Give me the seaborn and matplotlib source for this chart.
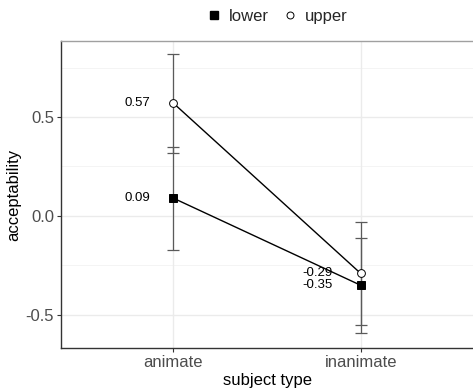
import matplotlib
matplotlib.use('Agg')
import matplotlib.pyplot as plt
from matplotlib.lines import Line2D
import seaborn as sns
import pandas as pd

# data
subjects = ['animate', 'inanimate', 'animate', 'inanimate']
positions = ['lower', 'lower', 'upper', 'upper']
means = [0.09, -0.35, 0.57, -0.29]
ci_low = [-0.17, -0.59, 0.32, -0.55]
ci_high = [0.35, -0.11, 0.82, -0.03]

df = pd.DataFrame({'subject': subjects, 'position': positions,
                   'acceptability': means, 'lo': ci_low, 'hi': ci_high})

sns.set_theme(style='white')
plt.rcParams['font.family'] = ['Liberation Sans', 'DejaVu Sans']

fig = plt.figure(figsize=(4.73, 3.89), dpi=100)
ax = fig.add_axes([0.129, 0.1054, 0.871, 0.7892])

# grid
for v in [-0.75, -0.25, 0.25, 0.75]:
    ax.axhline(v, color='#f2f2f2', lw=0.6, zorder=0)
for v in [-0.5, 0.0, 0.5]:
    ax.axhline(v, color='#ebebeb', lw=1.0, zorder=0)

# error bars
ax.errorbar(df['subject'], df['acceptability'],
            yerr=[df['acceptability'] - df['lo'], df['hi'] - df['acceptability']],
            fmt='none', ecolor='#5a5a5a', elinewidth=0.9, capsize=4,
            capthick=0.9, zorder=2)

styles = {'lower': dict(marker='s', markerfacecolor='black'),
          'upper': dict(marker='o', markerfacecolor='white')}
for pos in ['lower', 'upper']:
    sub = df[df['position'] == pos]
    sns.lineplot(data=sub, x='subject', y='acceptability', ax=ax,
                 color='black', lw=1.0, markersize=5.6,
                 markeredgecolor='black', markeredgewidth=0.7,
                 zorder=3, **styles[pos])

# value labels
nudge = {'animate': -0.19, 'inanimate': -0.23}
xidx = {'animate': 0, 'inanimate': 1}
for _, r in df.iterrows():
    ax.text(xidx[r['subject']] + nudge[r['subject']], r['acceptability'],
            '{:.2f}'.format(r['acceptability']), ha='center', va='center',
            fontsize=9.5, color='black')

for v in [0, 1]:
    ax.axvline(v, color='#ebebeb', lw=1.0, zorder=0)

ax.set_xlim(-0.6, 1.6)
ax.set_ylim(-0.667, 0.884)
ax.set_yticks([-0.5, 0.0, 0.5])
ax.set_yticklabels(['-0.5', '0.0', '0.5'])
ax.set_xlabel('subject type', fontsize=12, color='black', labelpad=2)
ax.set_ylabel('acceptability', fontsize=12, color='black', labelpad=3)
ax.tick_params(axis='both', which='major', labelsize=12, labelcolor='#4d4d4d',
               length=3, width=0.8, color='#333333', direction='out',
               bottom=True, left=True, pad=2)

for s in ['left', 'bottom']:
    ax.spines[s].set_color('#333333')
    ax.spines[s].set_linewidth(1.0)
ax.spines['top'].set_color('#a0a0a0')
ax.spines['top'].set_linewidth(1.0)
ax.spines['right'].set_visible(False)

handles = [Line2D([], [], ls='none', marker='s', color='black', markersize=5.6),
           Line2D([], [], ls='none', marker='o', markerfacecolor='white',
                  markeredgecolor='black', markersize=5.0, markeredgewidth=0.7)]
fig.legend(handles, ['lower', 'upper'], loc='center', bbox_to_anchor=(0.585, 0.958),
           ncol=2, frameon=False, fontsize=12, handletextpad=0.4,
           columnspacing=0.8, handlelength=1.0)

fig.savefig('out.png', dpi=100)
